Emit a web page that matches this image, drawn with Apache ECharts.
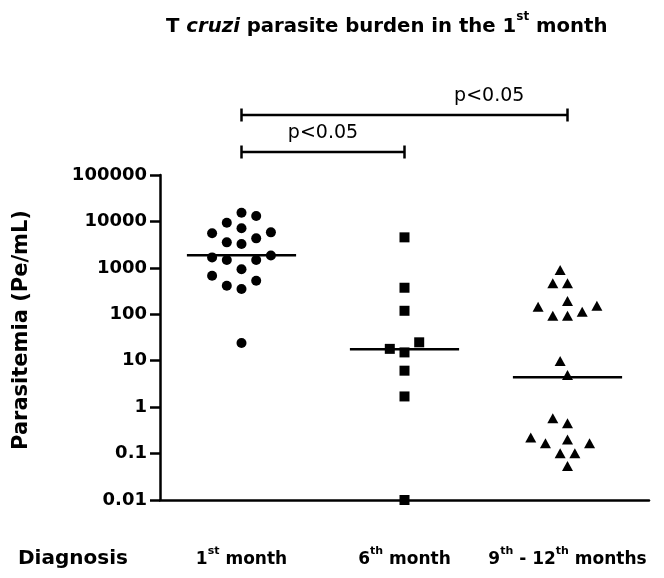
<!DOCTYPE html>
<html>
<head>
<meta charset="utf-8">
<script src="https://cdn.jsdelivr.net/npm/echarts@6/dist/echarts.min.js"></script>
<style>
    html, body {margin: 0; padding: 0; background: #fff;}
    #main {width: 664px; height: 578px;}
</style>
</head>
<body>
<div id="main"></div>
<script>
/*数据*/
var categories = ['1st month', '6th month', '9th - 12th months'];
var firstMonth = [15380, 13060, 9370, 7100, 5820, 5540, 4320, 3540, 3260, 1850, 1680, 1470, 1470, 930, 676, 528, 412, 350, 24];
var sixthMonth = [4540, 373, 119, 24.9, 18, 15.1, 6.1, 1.7, 0.01];
var ninthMonths = [897, 464, 464, 193, 153, 146, 113, 93, 93, 9.8, 4.9, 0.573, 0.448, 0.223, 0.202, 0.166, 0.166, 0.101, 0.101, 0.054];
var medians = [1870, 17.6, 4.4];
var yTicks = ['0.01', '0.1', '1', '10', '100', '1000', '10000', '100000'];
var comparisons = [[0, 1], [0, 2]];
var pLabels = ['p<0.05', 'p<0.05'];

/*布局参数*/
var GRID = {left: 160, right: 15, top: 175, bottom: 78, outerBoundsMode: 'none', containLabel: false};
var PPD = (578 - GRID.top - GRID.bottom) / 7;   // 每个数量级的像素
var HALF = 7.35, DIAM = 14.5;                    // 蜂群图步长/点间距
var FONT = '"DejaVu Sans", Arial, sans-serif';

/**
 * 蜂群布局: 按数值从小到大放点, 找离中心最近且不重叠的位置;
 * @returns 每个点的水平偏移(px);
 */
function swarm(vals) {
    var order = vals.map(function (v, i) { return i; }).sort(function (a, b) { return vals[a] - vals[b]; });
    var placed = [], offs = [];
    order.forEach(function (i) {
        var y = Math.log10(vals[i]) * PPD;
        for (var k = 0; k < 40; k++) {
            var dx = (k % 2 ? -1 : 1) * Math.ceil(k / 2) * HALF;
            var ok = placed.every(function (p) {
                var ddx = p[0] - dx, ddy = p[1] - y;
                return ddx * ddx + ddy * ddy >= DIAM * DIAM;
            });
            if (ok) { placed.push([dx, y]); offs[i] = dx; break; }
        }
    });
    return offs;
}

function dotSeries(vals, idx, symbol, size) {
    var offs = swarm(vals);
    return {
        type: 'scatter', symbol: symbol, symbolSize: size, z: 3,
        itemStyle: {color: '#000', opacity: 1},
        data: vals.map(function (v, i) { return {value: [idx, v], symbolOffset: [offs[i], 0]}; })
    };
}

/*上标格式: 1st month -> {b|1}{s|st}{b| month}*/
function supFmt(txt) {
    var out = '', re = /(\d+)(st|nd|rd|th)/g, last = 0, m;
    while ((m = re.exec(txt))) {
        if (m.index > last) out += '{b|' + txt.slice(last, m.index) + '}';
        out += '{b|' + m[1] + '}{s|' + m[2] + '}';
        last = re.lastIndex;
    }
    if (last < txt.length) out += '{b|' + txt.slice(last) + '}';
    return out;
}

var labelRich = {
    b: {fontFamily: FONT, fontWeight: 'bold', fontSize: 17, color: '#000', lineHeight: 22, verticalAlign: 'bottom'},
    s: {fontFamily: FONT, fontWeight: 'bold', fontSize: 11, color: '#000', lineHeight: 22, verticalAlign: 'top'}
};

var chart = echarts.init(document.getElementById('main'));
chart.setOption({
    backgroundColor: '#fff',
    animation: false,
    title: {
        text: '{b|T }{i|cruzi}{b| parasite burden in the 1}{s|st}{b| month}',
        left: 161, top: 6,
        textStyle: {
            rich: {
                b: {fontFamily: FONT, fontWeight: 'bold', fontSize: 19.7, color: '#000', lineHeight: 26, verticalAlign: 'bottom'},
                i: {fontFamily: FONT, fontWeight: 'bold', fontStyle: 'italic', fontSize: 19.7, color: '#000', lineHeight: 26, verticalAlign: 'bottom'},
                s: {fontFamily: FONT, fontWeight: 'bold', fontSize: 12, color: '#000', lineHeight: 26, verticalAlign: 'top'}
            }
        }
    },
    grid: GRID,
    xAxis: {
        type: 'category', data: categories,
        axisLine: {lineStyle: {color: '#000', width: 2.5}},
        axisTick: {alignWithLabel: true, length: 8, lineStyle: {color: '#000', width: 2.5}},
        axisLabel: {margin: 46, interval: 0, hideOverlap: false, formatter: supFmt, rich: labelRich}
    },
    yAxis: {
        type: 'log', logBase: 10, min: 0.01, max: 100000, splitNumber: 7,
        axisLine: {show: true, lineStyle: {color: '#000', width: 2.5}},
        axisTick: {show: true, length: 10, lineStyle: {color: '#000', width: 2.5}},
        splitLine: {show: false},
        axisLabel: {
            margin: 13, color: '#000', fontFamily: FONT, fontWeight: 'bold', fontSize: 18,
            formatter: function (v) { return yTicks[Math.round(Math.log10(v)) + 2]; }
        }
    },
    series: [
        dotSeries(firstMonth, 0, 'circle', 10),
        dotSeries(sixthMonth, 1, 'rect', 10),
        dotSeries(ninthMonths, 2, 'triangle', [11, 10]),
        {
            /*中位数线*/
            type: 'custom', z: 2,
            data: medians.map(function (m, i) { return [i, m]; }),
            renderItem: function (params, api) {
                var p = api.coord([api.value(0), api.value(1)]);
                var w = api.size([1, 0])[0] * 0.335;
                return {type: 'line', shape: {x1: p[0] - w, y1: p[1], x2: p[0] + w, y2: p[1]},
                    style: {stroke: '#000', lineWidth: 2.5}};
            }
        }
    ]
});

/*显著性括号和文字*/
var bracketY = [152, 115], labelPos = [0.5, 0.76];
var gfx = [];
comparisons.forEach(function (c, k) {
    var x1 = chart.convertToPixel({xAxisIndex: 0}, c[0]);
    var x2 = chart.convertToPixel({xAxisIndex: 0}, c[1]);
    var y = bracketY[k];
    var st = {stroke: '#000', lineWidth: 2.5};
    gfx.push({type: 'line', shape: {x1: x1, y1: y, x2: x2, y2: y}, style: st});
    gfx.push({type: 'line', shape: {x1: x1, y1: y - 6.5, x2: x1, y2: y + 6.5}, style: st});
    gfx.push({type: 'line', shape: {x1: x2, y1: y - 6.5, x2: x2, y2: y + 6.5}, style: st});
    gfx.push({type: 'text', x: x1 + (x2 - x1) * labelPos[k], y: y - 19,
        style: {text: pLabels[k], font: '19px ' + FONT, fill: '#000', textAlign: 'center', textVerticalAlign: 'middle'}});
});
gfx.push({type: 'text', x: 18, y: 559,
    style: {text: 'Diagnosis', font: 'bold 20px ' + FONT, fill: '#000', textAlign: 'left', textVerticalAlign: 'middle'}});
gfx.push({type: 'text', x: 22, y: 330, rotation: Math.PI / 2,
    style: {text: 'Parasitemia (Pe/mL)', font: 'bold 21px ' + FONT, fill: '#000', textAlign: 'center', textVerticalAlign: 'middle'}});
chart.setOption({graphic: gfx});
</script>
</body>
</html>
